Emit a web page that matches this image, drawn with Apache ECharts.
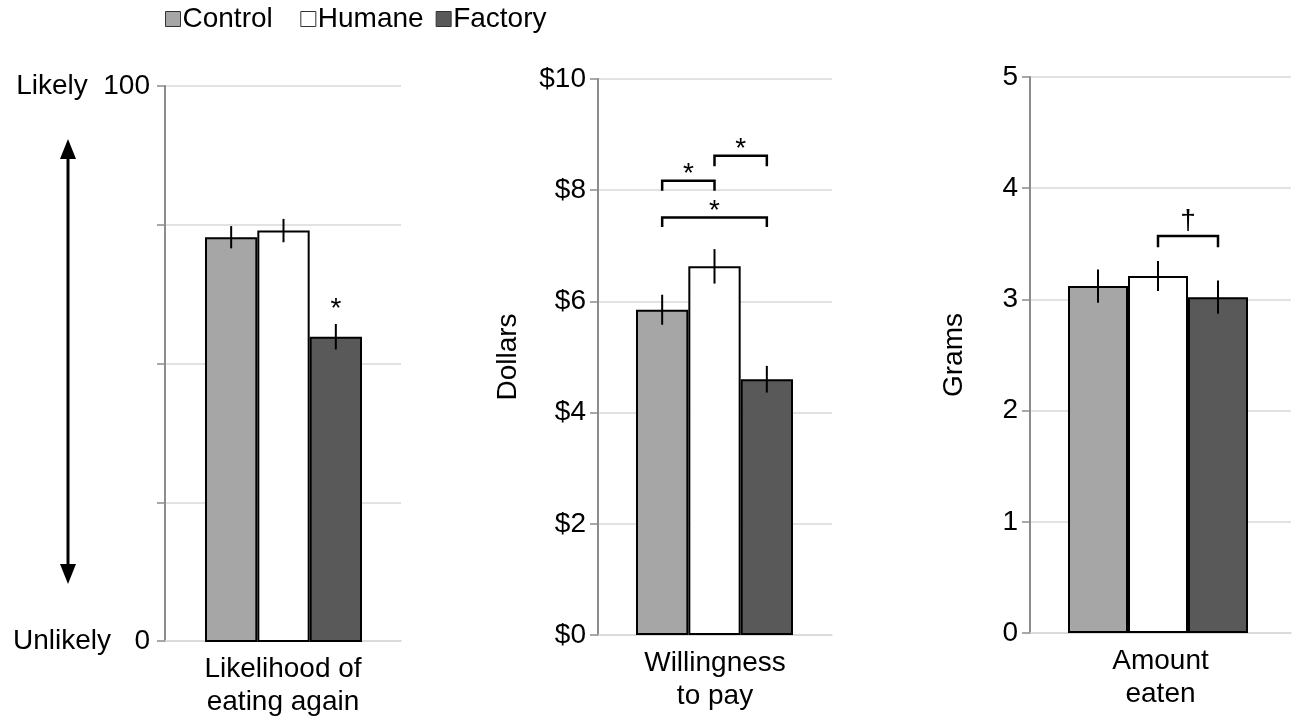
<!DOCTYPE html>
<html>
<head>
<meta charset="utf-8">
<script src="https://cdn.jsdelivr.net/npm/echarts@6/dist/echarts.min.js"></script>
<style>
html,body{margin:0;padding:0;background:#fff;}
#chart{width:1298px;height:719px;}
</style>
</head>
<body>
<div id="chart"></div>
<script>
// ---------- data ----------
const groups = ['Control', 'Humane', 'Factory'];
const groupColors = ['#a6a6a6', '#ffffff', '#595959'];

const panelNames = ['Likelihood of\neating again', 'Willingness\nto pay', 'Amount\neaten'];

const likelihoodMean = [72.8, 74.0, 54.9];
const likelihoodErr = [2.0, 2.1, 2.3];

const wtpMean = [5.85, 6.63, 4.60];
const wtpErr = [0.27, 0.31, 0.24];

const gramsMean = [3.12, 3.21, 3.02];
const gramsErr = [0.15, 0.135, 0.15];

// significance annotations: [fromIndex, toIndex, bracketTop, drop, label]
const likelihoodSig = [[2, 2, 58.8, 0, '*']];
const wtpSig = [[0, 1, 8.17, 0.18, '*'], [1, 2, 8.62, 0.19, '*'], [0, 2, 7.51, 0.17, '*']];
const gramsSig = [[1, 2, 3.57, 0.10, '\u2020']];

const likelihoodTicks = {0: 'Unlikely   0', 100: 'Likely  100'};
// ---------- layout ----------
const FONT = "'Liberation Sans', Arial, sans-serif";
const panels = [
  {name: panelNames[0], mean: likelihoodMean, err: likelihoodErr, sig: likelihoodSig,
   max: 100, interval: 25, outer: {left: 165, width: 236, top: 86, height: 556}, innerLeft: 205, innerWidth: 157,
   fmt: v => likelihoodTicks[v] || '', yName: '', nameGap: 0, labelMargin: 15, xMargin: 12},
  {name: panelNames[1], mean: wtpMean, err: wtpErr, sig: wtpSig,
   max: 10, interval: 2, outer: {left: 598, width: 234, top: 79, height: 556}, innerLeft: 636, innerWidth: 157,
   fmt: v => '$' + v, yName: 'Dollars', nameGap: 76, labelMargin: 12, xMargin: 12},
  {name: panelNames[2], mean: gramsMean, err: gramsErr, sig: gramsSig,
   max: 5, interval: 1, outer: {left: 1030, width: 261, top: 77, height: 556}, innerLeft: 1068, innerWidth: 180,
   fmt: v => String(v), yName: 'Grams', nameGap: 62, labelMargin: 12, xMargin: 12}
];

const grid = [], xAxis = [], yAxis = [], series = [];
panels.forEach((p, k) => {
  const gOuter = grid.length;
  grid.push({left: p.outer.left, width: p.outer.width, top: p.outer.top, height: p.outer.height, containLabel: false});
  const gInner = grid.length;
  grid.push({left: p.innerLeft, width: p.innerWidth, top: p.outer.top, height: p.outer.height, containLabel: false});

  xAxis.push({type: 'category', gridIndex: gOuter, data: [p.name],
    axisLine: {show: true, lineStyle: {color: '#d9d9d9', width: 1.5}},
    axisTick: {show: false},
    axisLabel: {interval: 0, fontSize: 28, lineHeight: 33, color: '#000', fontFamily: FONT, margin: p.xMargin},
    splitLine: {show: false}});
  xAxis.push({type: 'category', gridIndex: gInner, data: groups, show: false});

  yAxis.push({type: 'value', gridIndex: gOuter, min: 0, max: p.max, interval: p.interval,
    name: p.yName, nameLocation: 'middle', nameGap: p.nameGap,
    nameTextStyle: {fontSize: 28, color: '#000', fontFamily: FONT},
    axisLine: {show: true, lineStyle: {color: '#8c8c8c', width: 2}},
    axisTick: {show: true, length: 8, lineStyle: {color: '#8c8c8c', width: 1.5}},
    axisLabel: {formatter: p.fmt, fontSize: 28, color: '#000', fontFamily: FONT, margin: p.labelMargin},
    splitLine: {show: true, lineStyle: {color: '#d9d9d9', width: 1.5}}});
  yAxis.push({type: 'value', gridIndex: gInner, min: 0, max: p.max, interval: p.interval, show: false,
    splitLine: {show: false}});

  const xi = xAxis.length - 1, yi = yAxis.length - 1;
  groups.forEach((g, i) => {
    series.push({type: 'bar', name: g, xAxisIndex: xi, yAxisIndex: yi,
      data: p.mean.map((v, j) => j === i ? v : '-'),
      barGap: '-100%', barCategoryGap: 0,
      itemStyle: {color: groupColors[i], borderColor: '#000', borderWidth: 2},
      emphasis: {disabled: true}, animation: false, z: 2});
  });
  series.push({type: 'custom', name: 'err' + k, xAxisIndex: xi, yAxisIndex: yi,
    data: p.mean.map((v, i) => [i, v - p.err[i], v + p.err[i]]),
    renderItem: (params, api) => {
      const a = api.coord([api.value(0), api.value(1)]);
      const b = api.coord([api.value(0), api.value(2)]);
      return {type: 'line', shape: {x1: a[0], y1: a[1], x2: b[0], y2: b[1]},
        style: {stroke: '#000', lineWidth: 2}};
    }, z: 5, animation: false, silent: true});
  series.push({type: 'custom', name: 'sig' + k, xAxisIndex: xi, yAxisIndex: yi,
    data: p.sig.map(s => [s[0], s[1], s[2], s[3], s[4]]),
    renderItem: (params, api) => {
      const s = p.sig[params.dataIndex];
      const l = api.coord([s[0], s[2]]), r = api.coord([s[1], s[2]]);
      const lb = api.coord([s[0], s[2] - s[3]]), rb = api.coord([s[1], s[2] - s[3]]);
      const children = [];
      if (s[3] > 0) {
        children.push({type: 'polyline', shape: {points: [lb, l, r, rb]},
          style: {stroke: '#000', lineWidth: 2.5, fill: null}});
      }
      const isStar = s[4] === '*';
      children.push({type: 'text', style: {text: s[4], x: (l[0] + r[0]) / 2, y: l[1] + (isStar ? 8 : -1),
        align: 'center', verticalAlign: 'bottom', fontSize: 28, fontFamily: FONT, fill: '#000'}});
      return {type: 'group', children};
    }, z: 5, animation: false, silent: true});
});

const chart = echarts.init(document.getElementById('chart'), null, {renderer: 'canvas'});
chart.setOption({
  backgroundColor: '#fff',
  animation: false,
  textStyle: {fontFamily: FONT},
  legend: {
    data: groups,
    left: 160, top: 0, itemWidth: 15, itemHeight: 15, itemGap: 12,
    icon: 'rect', selectedMode: false,
    formatter: n => n === 'Control' ? n + '\u00a0\u00a0' : n,
    itemStyle: {borderWidth: 1, borderColor: '#333'},
    textStyle: {fontSize: 28, color: '#000', fontFamily: FONT, padding: [0, 0, 0, -3]}},
  grid, xAxis, yAxis, series,
  graphic: [
    {type: 'line', shape: {x1: 68, y1: 155, x2: 68, y2: 568}, style: {stroke: '#000', lineWidth: 3}},
    {type: 'polygon', shape: {points: [[68, 139], [60, 159], [76, 159]]}, style: {fill: '#000'}},
    {type: 'polygon', shape: {points: [[68, 584], [60, 564], [76, 564]]}, style: {fill: '#000'}}
  ]
});
</script>
</body>
</html>
